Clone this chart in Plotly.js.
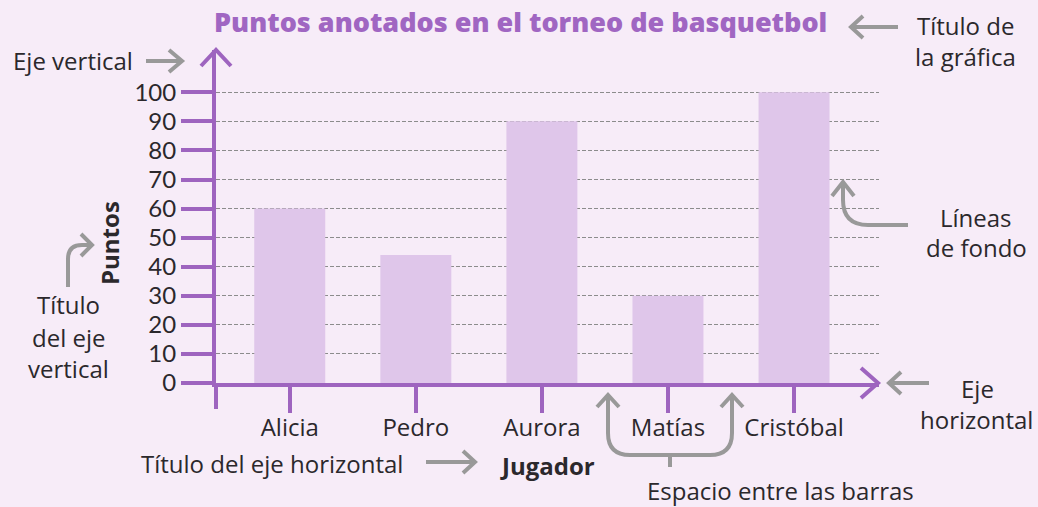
<!DOCTYPE html>
<html>
<head>
<meta charset="utf-8">
<script src="https://cdn.plot.ly/plotly-3.0.1.min.js"></script>
<style>html,body{margin:0;padding:0;background:#f7ecf8;}#chart{width:1038px;height:507px;}</style>
</head>
<body>
<div id="chart"></div>
<script>
// ---- data ----
const jugadores = ["Alicia", "Pedro", "Aurora", "Matías", "Cristóbal"];
const puntos = [60, 44, 90, 30, 100];
const yTicks = [0, 10, 20, 30, 40, 50, 60, 70, 80, 90, 100];
const chartTitle = "Puntos anotados en el torneo de basquetbol";
const xTitle = "Jugador";
const yTitle = "Puntos";

// ---- layout helpers (pixel -> paper) ----
const W = 1038, H = 507;
const L = 216, R = 879, T = 50, B = 383;
const px = x => (x - L) / (R - L);
const py = y => (B - y) / (B - T);
const P = (x, y) => px(x).toFixed(5) + "," + py(y).toFixed(5);

const purple = "#9e64bf";
const grey = "#999999";
const dark = "#2b282c";
const FONT = "'Open Sans', Lato, sans-serif";
const FS = 24;

function line(x0, y0, x1, y1, color, w) {
  return {type: "line", xref: "paper", yref: "paper", x0: px(x0), y0: py(y0), x1: px(x1), y1: py(y1),
          line: {color: color, width: w}, layer: "above"};
}
function path(d, color, w) {
  return {type: "path", xref: "paper", yref: "paper", path: d, line: {color: color, width: w}, layer: "above"};
}
function chevron(tx, ty, ax, ay, bx, by, color, w) {
  return path("M" + P(ax, ay) + " L" + P(tx, ty) + " L" + P(bx, by), color, w);
}
function label(text, x, y, opts) {
  return Object.assign({text: text, xref: "paper", yref: "paper", x: px(x), y: py(y),
    xanchor: "center", yanchor: "middle", showarrow: false,
    font: {family: FONT, size: FS, color: dark}}, opts || {});
}

const shapes = [
  // y axis extension below x axis and arrow head at top
  line(216, 383, 216, 409, purple, 4),
  chevron(216, 50, 201, 66, 231, 66, purple, 4),
  // x axis arrow head
  chevron(878, 383, 861, 368, 861, 398, purple, 4),
  // "Eje vertical" arrow
  line(146, 61, 181, 61, grey, 4),
  chevron(182, 61, 169, 50, 169, 72, grey, 4),
  // title arrow
  line(852, 27, 898, 27, grey, 4),
  chevron(851, 27, 863, 16, 863, 38, grey, 4),
  // Líneas de fondo arrow
  path("M" + P(908, 225) + " L" + P(868, 225) + " Q" + P(843, 225) + " " + P(843, 200) + " L" + P(843, 183), grey, 4),
  chevron(843, 182, 832, 196, 854, 196, grey, 4),
  // Eje horizontal arrow
  line(890, 383, 929, 383, grey, 4),
  chevron(889, 383, 901, 372, 901, 394, grey, 4),
  // Título del eje vertical arrow
  path("M" + P(68, 287) + " L" + P(68, 259) + " Q" + P(68, 245) + " " + P(82, 245) + " L" + P(91, 245), grey, 4),
  chevron(92, 245, 81, 234, 81, 256, grey, 4),
  // Título del eje horizontal arrow
  line(426, 462, 474, 462, grey, 4),
  chevron(475, 462, 463, 451, 463, 473, grey, 4),
  // Espacio entre las barras bracket
  path("M" + P(608, 396) + " L" + P(608, 433) + " Q" + P(608, 455) + " " + P(630, 455) +
       " L" + P(710, 455) + " Q" + P(732, 455) + " " + P(732, 433) + " L" + P(732, 396), grey, 4),
  chevron(608, 395, 597, 407, 619, 407, grey, 4),
  chevron(732, 395, 721, 407, 743, 407, grey, 4),
  line(670, 455, 670, 467, grey, 4)
];

const annotations = [
  label(chartTitle, 520, 22, {font: {family: FONT, size: 27, color: "#a066c2", weight: 800}}),
  label(yTitle, 110, 243, {textangle: -90, font: {family: FONT, size: 24, color: dark, weight: 700}}),
  label(xTitle, 547, 465, {font: {family: FONT, size: 24, color: dark, weight: 700}}),
  label("Eje vertical", 73, 60),
  label("Título de", 965, 25),
  label("la gráfica", 965, 57),
  label("Líneas", 976, 217),
  label("de fondo", 976, 248),
  label("Eje", 977, 388),
  label("horizontal", 976, 419),
  label("Título", 68, 304),
  label("del eje", 68, 337),
  label("vertical", 68, 368),
  label("Título del eje horizontal", 272, 463),
  label("Espacio entre las barras", 780, 490)
];

const trace = {
  type: "bar",
  x: jugadores,
  y: puntos,
  width: 0.563,
  marker: {color: "#dfc6ea", line: {width: 0}},
  hoverinfo: "x+y"
};

const layout = {
  width: W, height: H,
  margin: {l: L, r: W - R, t: T, b: H - B, pad: 0},
  paper_bgcolor: "#f7ecf8",
  plot_bgcolor: "#f7ecf8",
  showlegend: false,
  font: {family: FONT, color: dark},
  xaxis: {
    type: "category",
    range: [-0.585, 4.674],
    showline: true, linecolor: purple, linewidth: 4,
    ticks: "outside", ticklen: 26, tickwidth: 4, tickcolor: purple,
    ticklabelstandoff: -6,
    tickfont: {family: FONT, size: FS, color: dark},
    showgrid: false, zeroline: false, fixedrange: true
  },
  yaxis: {
    range: [0, 114.55],
    tickvals: yTicks,
    ticktext: yTicks.map(String),
    showline: true, linecolor: purple, linewidth: 4,
    ticks: "outside", ticklen: 31, tickwidth: 4, tickcolor: purple,
    tickfont: {family: "Lato, 'Open Sans', sans-serif", size: 24, color: dark},
    showgrid: true, gridcolor: "#8c8c8c", gridwidth: 1, griddash: "4px,2px",
    zeroline: false, fixedrange: true
  },
  shapes: shapes,
  annotations: annotations
};

Plotly.newPlot("chart", [trace], layout, {displayModeBar: false, staticPlot: true});
</script>
</body>
</html>
